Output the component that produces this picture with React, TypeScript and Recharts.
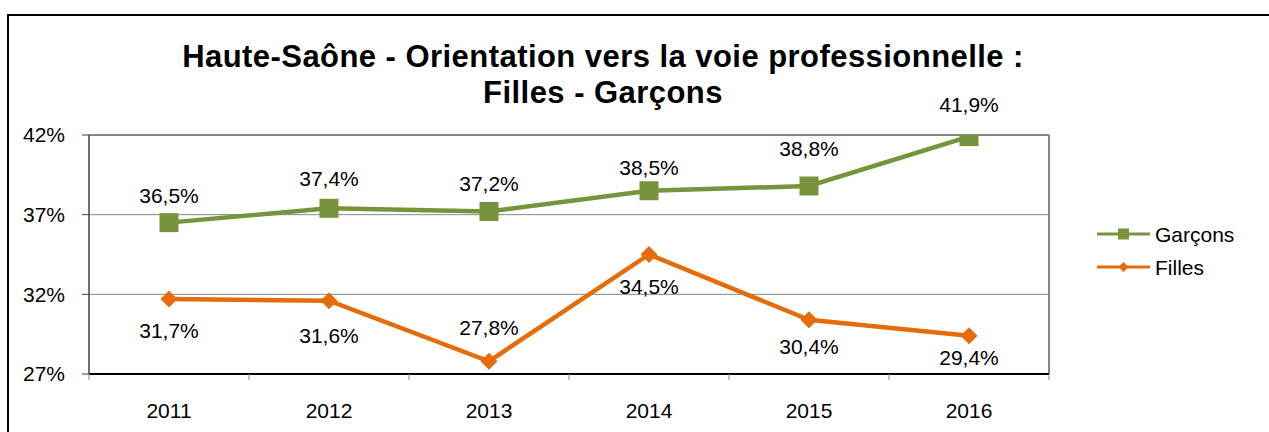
import React from 'react';
import { LineChart, Line, XAxis, YAxis, CartesianGrid, LabelList, ReferenceLine } from 'recharts';

const years = ['2011', '2012', '2013', '2014', '2015', '2016'];
const garcons = [36.5, 37.4, 37.2, 38.5, 38.8, 41.9];
const filles = [31.7, 31.6, 27.8, 34.5, 30.4, 29.4];
const yTicks = [27, 32, 37, 42];
const titleLines = ['Haute-Saône - Orientation vers la voie professionnelle :', 'Filles - Garçons'];
const seriesNames = ['Garçons', 'Filles'];

// label placement (styling): vertical offset of each data label from its point
const garconsLabelDy = [-27, -30, -28, -23, -37, -32];
const fillesLabelDy = [31, 35, -34, 32, 27, 22];

const GREEN = '#77933C';
const ORANGE = '#E46C0A';
const FONT = '"Liberation Sans", Arial, sans-serif';

const W = 1269;
const H = 432;
const MARGIN = { top: 135, right: 220, bottom: 28, left: 29 };
const PLOT_W = W - MARGIN.left - 60 - MARGIN.right;
const HALF_BAND = PLOT_W / years.length / 2;

const data = years.map((y, i) => ({ idx: i, year: y, garcons: garcons[i], filles: filles[i] }));
const xBoundaries = years.map((_, i) => i - 0.5).concat([years.length - 0.5]);

const fmt = (v: number) => v.toFixed(1).replace('.', ',') + '%';

const XTick = (props: any) => {
  const { x, y, payload } = props;
  const i = payload.value + 0.5;
  if (i >= years.length) return <g />;
  return (
    <text x={x + HALF_BAND} y={y + 36} textAnchor="middle" fontSize={21} fontFamily={FONT} fill="#000">
      {years[i]}
    </text>
  );
};

const YTick = (props: any) => {
  const { x, y, payload } = props;
  return (
    <text x={x} y={y} dy="0.355em" textAnchor="end" fontSize={21} fontFamily={FONT} fill="#000">
      {payload.value + '%'}
    </text>
  );
};

const makeLabel = (dys: number[]) => (props: any) => {
  const { x, y, value, index } = props;
  return (
    <text
      key={'l' + index}
      x={x}
      y={y + dys[index]}
      dominantBaseline="central"
      textAnchor="middle"
      fontSize={21}
      fontFamily={FONT}
      fill="#000"
    >
      {fmt(value)}
    </text>
  );
};

const SquareDot = (props: any) => {
  const { cx, cy, index } = props;
  const s = 19;
  return <rect key={'s' + index} x={cx - s / 2} y={cy - s / 2} width={s} height={s} fill={GREEN} />;
};

const DiamondDot = (props: any) => {
  const { cx, cy, index } = props;
  const r = 8.5;
  return (
    <polygon
      key={'d' + index}
      points={`${cx},${cy - r} ${cx + r},${cy} ${cx},${cy + r} ${cx - r},${cy}`}
      fill={ORANGE}
    />
  );
};

export default function App() {
  return (
    <div style={{ position: 'absolute', left: 0, top: 0, width: W, height: H, overflow: 'hidden', background: '#fff' }}>
      <div
        style={{
          position: 'absolute',
          left: 7,
          top: 14,
          width: W + 20,
          height: H + 20,
          border: '2px solid #000',
          boxSizing: 'border-box',
        }}
      />
      <div style={{ position: 'absolute', left: 0, top: 0 }}>
        <LineChart width={W} height={H} data={data} margin={MARGIN}>
          <CartesianGrid horizontal vertical={false} stroke="#868686" strokeWidth={1} />
          <XAxis
            dataKey="idx"
            type="number"
            domain={[-0.5, years.length - 0.5]}
            ticks={xBoundaries}
            interval={0}
            height={30}
            tickSize={6}
            tickMargin={2}
            tick={<XTick />}
            axisLine={{ stroke: '#000', strokeWidth: 2 }}
            tickLine={{ stroke: '#868686', strokeWidth: 1 }}
            allowDataOverflow
          />
          <YAxis
            type="number"
            domain={[27, 42]}
            ticks={yTicks}
            interval={0}
            width={60}
            tickSize={7}
            tickMargin={17}
            tick={<YTick />}
            axisLine={{ stroke: '#404040', strokeWidth: 1.5 }}
            tickLine={{ stroke: '#404040', strokeWidth: 1 }}
            allowDataOverflow
          />
          <ReferenceLine y={42} stroke="#868686" strokeWidth={2} />
          <ReferenceLine x={years.length - 0.5} stroke="#868686" strokeWidth={2} />
          <Line
            dataKey="garcons"
            name={seriesNames[0]}
            stroke={GREEN}
            strokeWidth={4.5}
            dot={SquareDot}
            activeDot={false}
            isAnimationActive={false}
          >
            <LabelList dataKey="garcons" content={makeLabel(garconsLabelDy)} />
          </Line>
          <Line
            dataKey="filles"
            name={seriesNames[1]}
            stroke={ORANGE}
            strokeWidth={4.5}
            dot={DiamondDot}
            activeDot={false}
            isAnimationActive={false}
          >
            <LabelList dataKey="filles" content={makeLabel(fillesLabelDy)} />
          </Line>
        </LineChart>
      </div>
      <svg width={W} height={H} style={{ position: 'absolute', left: 0, top: 0, pointerEvents: 'none' }}>
        <text x={603} y={67} textAnchor="middle" fontSize={31} letterSpacing={0.45} fontWeight="bold" fontFamily={FONT} fill="#000">
          {titleLines[0]}
        </text>
        <text x={603} y={103} textAnchor="middle" fontSize={31} letterSpacing={0.45} fontWeight="bold" fontFamily={FONT} fill="#000">
          {titleLines[1]}
        </text>
        <line x1={1097} x2={1150} y1={234} y2={234} stroke={GREEN} strokeWidth={3} />
        <rect x={1118} y={228.5} width={11} height={11} fill={GREEN} />
        <text x={1155} y={241.5} fontSize={21} fontFamily={FONT} fill="#000">
          {seriesNames[0]}
        </text>
        <line x1={1097} x2={1150} y1={267} y2={267} stroke={ORANGE} strokeWidth={3} />
        <polygon points="1123.5,262 1128.5,267 1123.5,272 1118.5,267" fill={ORANGE} />
        <text x={1155} y={274.5} fontSize={21} fontFamily={FONT} fill="#000">
          {seriesNames[1]}
        </text>
      </svg>
    </div>
  );
}
